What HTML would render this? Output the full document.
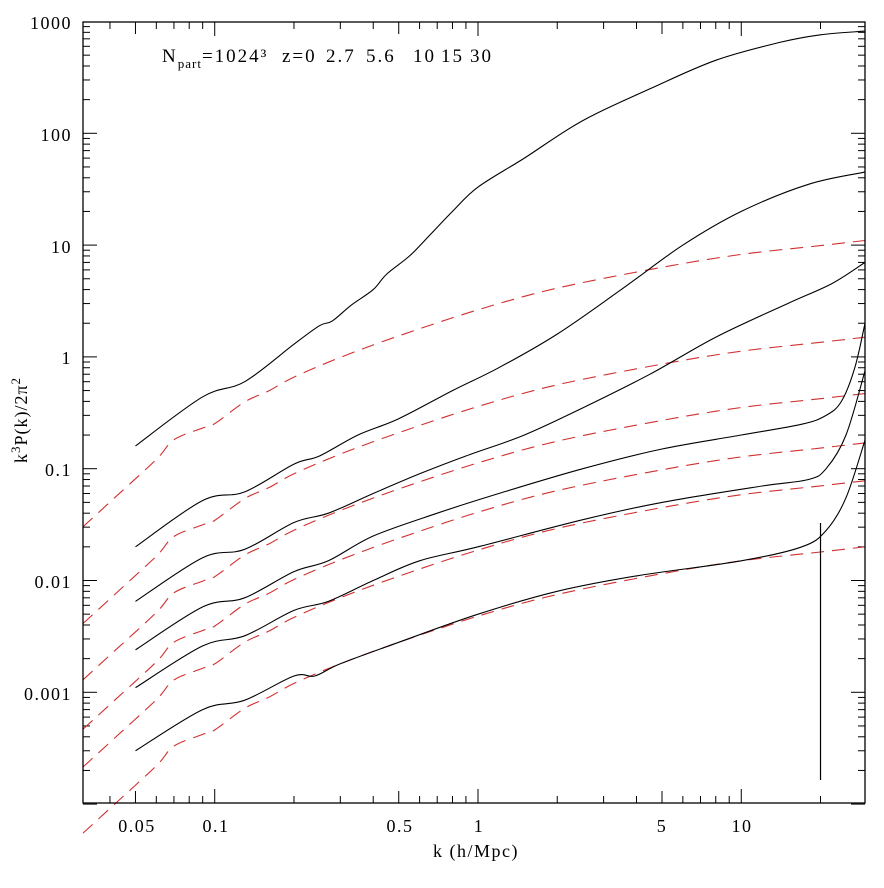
<!DOCTYPE html>
<html><head><meta charset="utf-8"><style>
html,body{margin:0;padding:0;background:#fff}
svg text{font-family:"Liberation Serif","DejaVu Serif",serif;fill:#000}
</style></head><body>
<svg id="s" width="884" height="883" xmlns="http://www.w3.org/2000/svg">
<rect x="0" y="0" width="884" height="883" fill="#fff"/>
<g id="g"></g>
<rect x="83" y="22" width="782" height="781" fill="none" stroke="#000" stroke-width="1.3"/>
<g font-size="19" letter-spacing="2">
<text x="162" y="62">N<tspan font-size="13" dy="6" letter-spacing="1">part</tspan><tspan dy="-6">=1024³</tspan></text>
<text x="282" y="62">z=0</text><text x="326" y="62">2.7</text><text x="366" y="62">5.6</text>
<text x="413" y="62">10</text><text x="441" y="62">15</text><text x="470" y="62">30</text>
</g>
<g font-size="18" text-anchor="end" letter-spacing="1.5">
<text x="72" y="29">1000</text><text x="72" y="141">100</text><text x="72" y="253">10</text>
<text x="72" y="364">1</text><text x="72" y="476">0.1</text><text x="72" y="588">0.01</text><text x="72" y="700">0.001</text>
</g>
<g font-size="18" text-anchor="middle" letter-spacing="1.5">
<text x="137" y="832">0.05</text><text x="216" y="832">0.1</text><text x="400" y="832">0.5</text>
<text x="479" y="832">1</text><text x="662" y="832">5</text><text x="742" y="832">10</text>
<text x="476" y="857">k (h/Mpc)</text>
</g>
<text transform="translate(27,420) rotate(-90)" font-size="18" letter-spacing="1" text-anchor="middle">k<tspan font-size="13" dy="-7">3</tspan><tspan dy="7">P(k)/2π</tspan><tspan font-size="13" dy="-7">2</tspan></text>
</svg>
<script>
var X0=83,X1=865,L0=Math.log10(0.0316),L1=1.47,YT=21.5,DEC=111.8;
function X(k){return X0+(Math.log10(k)-L0)/(L1-L0)*(X1-X0);}
function Y(p){return YT+(3-Math.log10(p))*DEC;}
var g=document.getElementById('g'),h='';
function path(pts,st,smooth){var P=pts.map(function(p){return[X(p[0]),Y(p[1])];});var d='M'+P[0][0].toFixed(1)+','+P[0][1].toFixed(1);
for(var i=0;i<P.length-1;i++){var p0=P[i-1]||P[i],p1=P[i],p2=P[i+1],p3=P[i+2]||P[i+1];
if(smooth){var c1=[p1[0]+(p2[0]-p0[0])/6,p1[1]+(p2[1]-p0[1])/6],c2=[p2[0]-(p3[0]-p1[0])/6,p2[1]-(p3[1]-p1[1])/6];
d+='C'+c1[0].toFixed(1)+','+c1[1].toFixed(1)+' '+c2[0].toFixed(1)+','+c2[1].toFixed(1)+' '+p2[0].toFixed(1)+','+p2[1].toFixed(1);}
else d+='L'+p2[0].toFixed(1)+','+p2[1].toFixed(1);}
h+='<path d="'+d+'" fill="none" '+st+'/>';}
for(var e=-2;e<=1;e++)for(var m=1;m<10;m++){var k=m*Math.pow(10,e);if(k<0.0316||k>29.5)continue;var x=X(k);var len=(m==1)?14:(m==5?12:7);
h+='<line x1="'+x+'" y1="803" x2="'+x+'" y2="'+(803-len)+'" stroke="#000" stroke-width="1"/>';
h+='<line x1="'+x+'" y1="22" x2="'+x+'" y2="'+(22+len)+'" stroke="#000" stroke-width="1"/>';}
for(var e=-4;e<=2;e++)for(var m=1;m<10;m++){var p=m*Math.pow(10,e);if(p<1e-4||p>1000)continue;var y=Y(p);var len=(m==1)?14:7;
h+='<line x1="83" y1="'+y+'" x2="'+(83+len)+'" y2="'+y+'" stroke="#000" stroke-width="1"/>';
h+='<line x1="865" y1="'+y+'" x2="'+(865-len)+'" y2="'+y+'" stroke="#000" stroke-width="1"/>';}
var base=[[0.0316,5.5e-5],[0.0417,1e-4],[0.06,0.00022],[0.07,0.00033],[0.09,0.00042],[0.1,0.00046],[0.13,0.00072],[0.16,0.0009],[0.2,0.0012],[0.3,0.0018],[0.5,0.0028],[1,0.0048],[2,0.0075],[5,0.0115],[10,0.015],[20,0.018],[29.5,0.02]];
[550,75,23.5,8.5,3.9,1].forEach(function(s){path(base.map(function(p){return[p[0],p[1]*s];}),'stroke="#d03030" stroke-width="1.1" stroke-dasharray="13,8"',true);});
var B=[
[[0.05,0.16],[0.09,0.44],[0.13,0.6],[0.2,1.3],[0.25,1.9],[0.28,2.1],[0.33,2.9],[0.4,4],[0.45,5.5],[0.55,8],[0.65,12],[0.8,20],[1,33],[1.5,60],[2.5,130],[4.5,250],[8,450],[14,650],[20,760],[29.5,820]],
[[0.05,0.02],[0.09,0.052],[0.13,0.062],[0.2,0.11],[0.25,0.13],[0.35,0.2],[0.5,0.28],[0.8,0.5],[1.2,0.8],[2,1.6],[3.5,4],[6,10],[10,20],[18,35],[29.5,45]],
[[0.05,0.0065],[0.09,0.016],[0.13,0.019],[0.2,0.033],[0.27,0.04],[0.4,0.06],[0.6,0.09],[0.9,0.13],[1.5,0.2],[2.5,0.35],[4.5,0.7],[8,1.5],[15,3],[22,4.5],[29.5,7]],
[[0.05,0.0024],[0.09,0.0058],[0.13,0.007],[0.2,0.012],[0.27,0.015],[0.4,0.025],[0.7,0.04],[1.2,0.06],[2.5,0.1],[5,0.15],[10,0.2],[17,0.25],[21,0.3],[24,0.4],[27,0.8],[29.5,2]],
[[0.05,0.0011],[0.09,0.0026],[0.13,0.0032],[0.2,0.0054],[0.27,0.0065],[0.4,0.01],[0.6,0.015],[1,0.02],[2.5,0.035],[5,0.05],[12,0.07],[18,0.08],[21,0.1],[25,0.2],[29.5,0.75]],
[[0.05,0.0003],[0.09,0.0007],[0.13,0.00085],[0.2,0.0014],[0.24,0.0014],[0.3,0.0018],[0.5,0.0028],[1,0.005],[2,0.008],[4,0.011],[10,0.015],[17,0.02],[21,0.028],[25,0.055],[29.5,0.18]]];
B.forEach(function(c){path(c,'stroke="#000" stroke-width="1.1"',true);});
h+='<line x1="'+X(20)+'" y1="523" x2="'+X(20)+'" y2="780" stroke="#000" stroke-width="1.2"/>';
g.innerHTML=h;
</script>
</body></html>
